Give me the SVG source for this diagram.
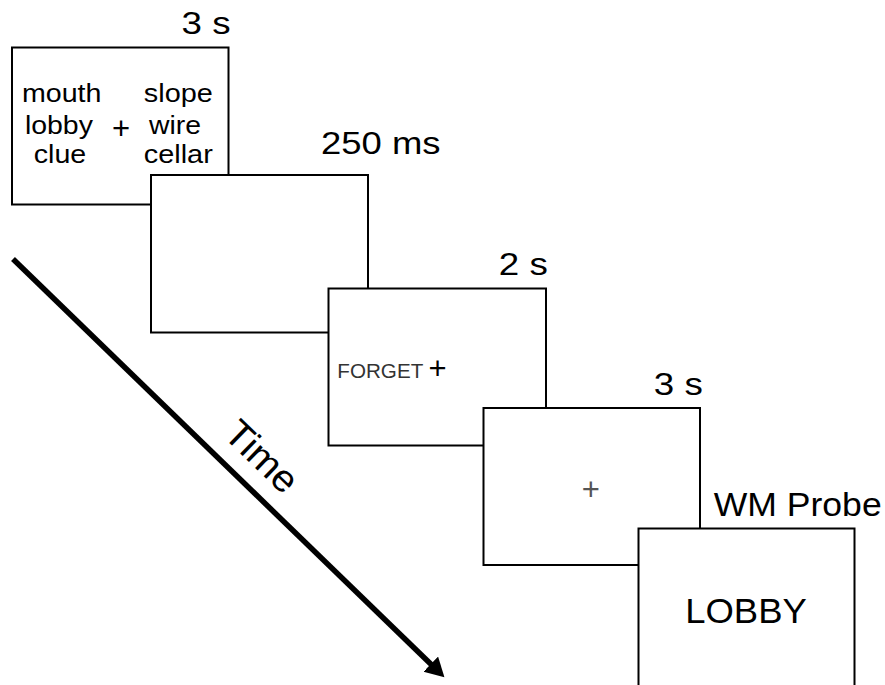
<svg xmlns="http://www.w3.org/2000/svg" width="885" height="685" viewBox="0 0 885 685">
  <style>
    .box { fill: #ffffff; stroke: #000000; stroke-width: 2; }
    text { font-family: "Liberation Sans", Arial, Helvetica, sans-serif; fill: #000000; }
    .dur { font-size: 32px; }
    .word { font-size: 25px; text-anchor: middle; }
    .fix { font-size: 31px; text-anchor: middle; }
    .axis { stroke: #000000; stroke-width: 5.5; fill: none; }
  </style>
  <defs>
    <marker id="arrowhead" markerUnits="userSpaceOnUse" markerWidth="20" markerHeight="22" refX="1" refY="10.5" orient="auto">
      <path d="M0,0 L19,10.5 L0,21 Z" fill="#000000"/>
    </marker>
  </defs>
  <rect width="885" height="685" fill="#ffffff"/>

  <g id="node-study">
    <rect class="box" x="12" y="47.5" width="216.5" height="157"/>
    <text class="dur" x="181.5" y="34" textLength="49" lengthAdjust="spacingAndGlyphs">3 s</text>
    <text class="word" x="61.7" y="102" textLength="79.5" lengthAdjust="spacingAndGlyphs">mouth</text>
    <text class="word" x="58.9" y="134" textLength="68" lengthAdjust="spacingAndGlyphs">lobby</text>
    <text class="word" x="60" y="163" textLength="52.5" lengthAdjust="spacingAndGlyphs">clue</text>
    <text class="fix" x="121" y="139.2">+</text>
    <text class="word" x="178.3" y="102" textLength="69" lengthAdjust="spacingAndGlyphs">slope</text>
    <text class="word" x="175" y="134" textLength="52" lengthAdjust="spacingAndGlyphs">wire</text>
    <text class="word" x="178.3" y="163" textLength="69" lengthAdjust="spacingAndGlyphs">cellar</text>
  </g>

  <g id="node-blank">
    <rect class="box" x="151" y="175" width="217" height="157.5"/>
    <text class="dur" x="321" y="154.3" textLength="119.5" lengthAdjust="spacingAndGlyphs">250 ms</text>
  </g>

  <g id="node-cue">
    <rect class="box" x="328.5" y="288.5" width="217.5" height="157"/>
    <text class="dur" x="498.8" y="275" textLength="49" lengthAdjust="spacingAndGlyphs">2 s</text>
    <text x="337.3" y="378.3" font-size="21" fill="#333333" style="fill:#333333" textLength="86" lengthAdjust="spacingAndGlyphs">FORGET</text>
    <text class="fix" x="437.5" y="379.2">+</text>
  </g>

  <g id="node-fixation">
    <rect class="box" x="483.5" y="408" width="216.5" height="157"/>
    <text class="dur" x="653.8" y="395" textLength="49" lengthAdjust="spacingAndGlyphs">3 s</text>
    <text class="fix" x="590.7" y="500.2" style="fill:#555555">+</text>
  </g>

  <g id="node-probe">
    <rect class="box" x="638.5" y="528.5" width="216" height="170"/>
    <text class="dur" x="713.7" y="515.7" style="font-size:33.5px" textLength="168" lengthAdjust="spacingAndGlyphs">WM Probe</text>
    <text x="746" y="622.7" font-size="35" text-anchor="middle" textLength="121.5" lengthAdjust="spacingAndGlyphs">LOBBY</text>
  </g>

  <g id="connectors">
    <line class="axis" x1="13" y1="259" x2="431.5" y2="664.8" marker-end="url(#arrowhead)"/>
    <text transform="translate(222,436) rotate(44)" font-size="38" textLength="86" lengthAdjust="spacingAndGlyphs">Time</text>
  </g>
</svg>
